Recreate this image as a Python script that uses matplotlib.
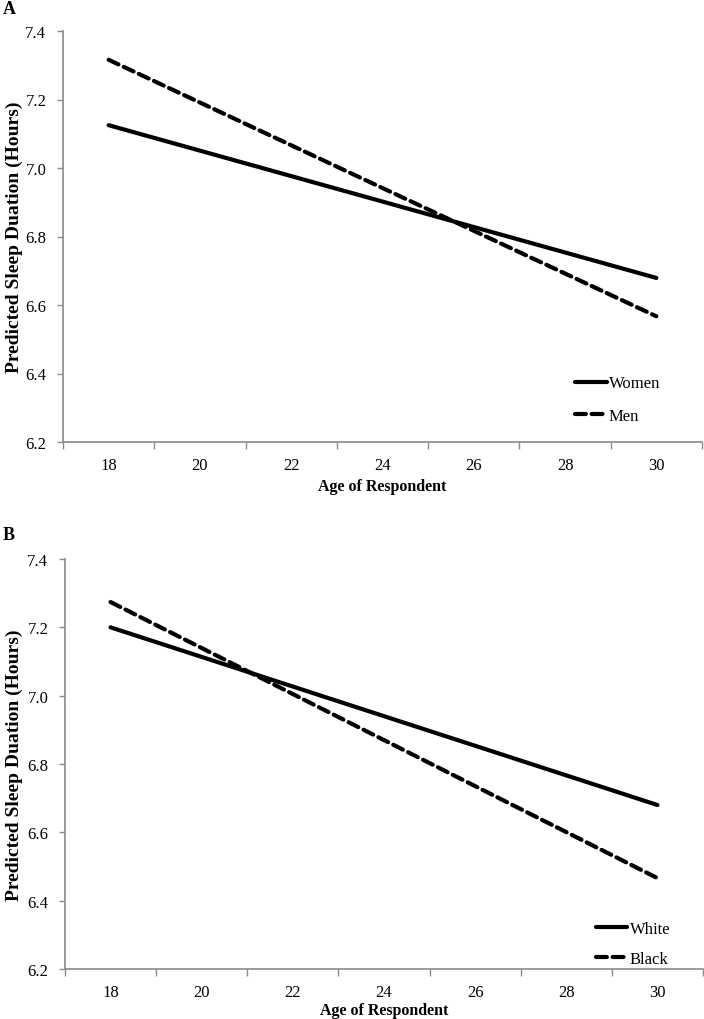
import matplotlib
matplotlib.use("Agg")
import matplotlib.pyplot as plt

plt.rcParams['font.family'] = ['Liberation Serif', 'DejaVu Serif']

ages = [18, 20, 22, 24, 26, 28, 30]
line_x = [18, 30]
women = [7.125, 6.679]
men = [7.316, 6.567]
white = [7.200, 6.680]
black = [7.274, 6.466]
yticks = [6.2, 6.4, 6.6, 6.8, 7.0, 7.2, 7.4]

fig = plt.figure(figsize=(7.04, 10.2), dpi=100)
axA = fig.add_axes([63/704, 1-443/1020, 639/704, 411/1020])
axB = fig.add_axes([65/704, 1-970/1020, 638/704, 410/1020])

GRAY = '#8a8a8a'
DASH = (0, (2.6, 1.4))

def style(ax, legend_labels, s1, s2, leg_anchor, labelspacing, xlab_y, ylab_x):
    ax.plot(line_x, s1, color='black', lw=3.0, solid_capstyle='round', label=legend_labels[0])
    ax.plot(line_x, s2, color='black', lw=3.0, linestyle=DASH, dash_capstyle='round', label=legend_labels[1])
    ax.set_xlim(17, 31)
    ax.set_ylim(6.2, 7.4)
    ax.set_yticks(yticks)
    ax.set_yticklabels([f"{v:.1f}" for v in yticks], fontsize=12)
    ax.set_xticks(ages)
    ax.set_xticklabels([str(a) for a in ages], fontsize=12)
    ax.set_xticks([17 + 2*i for i in range(8)], minor=True)
    ax.tick_params(axis='x', which='major', length=0, pad=10.5)
    ax.tick_params(axis='x', which='minor', length=5, color=GRAY, width=1, direction='out')
    ax.tick_params(axis='y', which='major', length=4, color=GRAY, width=1, direction='out', pad=8)
    for s in ['top', 'right']:
        ax.spines[s].set_visible(False)
    for s in ['left', 'bottom']:
        ax.spines[s].set_color(GRAY)
        ax.spines[s].set_linewidth(1.2)
    ax.set_xlabel('Age of Respondent', fontsize=11.5, fontweight='bold')
    ax.xaxis.set_label_coords(0.5, xlab_y)
    ax.set_ylabel('Predicted Sleep Duation (Hours)', fontsize=14, fontweight='bold')
    ax.yaxis.set_label_coords(ylab_x, 0.5)
    ax.legend(loc='upper left', bbox_to_anchor=leg_anchor, frameon=False,
              borderpad=0, borderaxespad=0, handlelength=1.9, handletextpad=0.15,
              labelspacing=labelspacing, fontsize=12)

style(axA, ['Women', 'Men'], women, men, (0.801, 0.162), 1.0, -0.088, -0.063)
style(axB, ['White', 'Black'], white, black, (0.832, 0.118), 0.85, -0.080, -0.066)

fig.text(3/704, 1-10/1020, 'A', fontsize=13, fontweight='bold', va='center', ha='left')
fig.text(3/704, 1-535/1020, 'B', fontsize=13, fontweight='bold', va='center', ha='left')

fig.savefig('out.png', dpi=100)
